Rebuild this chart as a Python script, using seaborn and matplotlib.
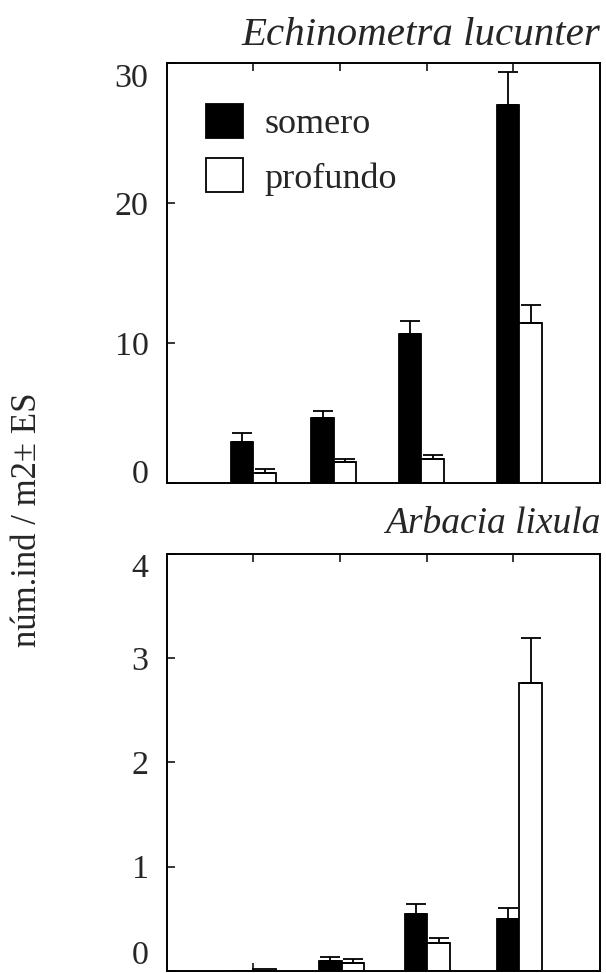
import numpy as np
import pandas as pd
import seaborn as sns
import matplotlib.pyplot as plt
from matplotlib.patches import Patch

# valores
depth = ['somero', 'profundo']
colors = ['black', 'white']

pos_echi = [1.0, 1.93, 2.94, 4.07]
echi_somero = [2.89, 4.6, 10.6, 27.0]
echi_somero_es = [0.64, 0.54, 0.97, 2.4]
echi_profundo = [0.71, 1.46, 1.71, 11.43]
echi_profundo_es = [0.29, 0.25, 0.27, 1.26]

pos_arba = [1.0, 2.02, 3.01, 4.07]
arba_somero = [0.0, 0.10, 0.55, 0.50]
arba_somero_es = [0.0, 0.033, 0.09, 0.10]
arba_profundo = [0.02, 0.08, 0.265, 2.76]
arba_profundo_es = [0.0, 0.037, 0.055, 0.43]

titles = ['Echinometra lucunter', 'Arbacia lixula']
yticks_echi = [0, 10, 20, 30]
yticks_arba = [0, 1, 2, 3, 4]
ylabel = 'núm.ind / m2± ES'


def make_df(pos, som, som_es, pro, pro_es):
    return pd.DataFrame({'pos': pos + pos,
                         'tipo': [depth[0]] * len(pos) + [depth[1]] * len(pos),
                         'val': som + pro,
                         'es': som_es + pro_es})


df_echi = make_df(pos_echi, echi_somero, echi_somero_es, echi_profundo, echi_profundo_es)
df_arba = make_df(pos_arba, arba_somero, arba_somero_es, arba_profundo, arba_profundo_es)

sns.set_style('ticks')
plt.rcParams['font.family'] = ['Liberation Serif', 'DejaVu Serif']

fig = plt.figure(figsize=(6.06, 9.73), dpi=100)
ax1 = fig.add_axes([0.275, 0.504, 0.715, 0.431])
ax2 = fig.add_axes([0.275, 0.002, 0.715, 0.429])

panels = [(ax1, df_echi, yticks_echi, titles[0], 29.5, 13, 'baseline'),
          (ax2, df_arba, yticks_arba, titles[1], 27, 15, 'bottom')]

for ax, df, yt, title, tsize, tpad, va0 in panels:
    native = np.diff(sorted(set(df['pos']))).min()
    sns.barplot(data=df, x='pos', y='val', hue='tipo', hue_order=depth,
                palette=colors, native_scale=True, width=0.52 / native,
                errorbar=None, saturation=1, edgecolor='black',
                linewidth=1.3, legend=False, ax=ax)
    # error estandar solo hacia arriba
    for bar, (_, row) in zip(ax.patches, df.iterrows()):
        if row['es'] > 0:
            ax.errorbar(bar.get_x() + bar.get_width() / 2, bar.get_height(),
                        yerr=[[0], [row['es']]], fmt='none', ecolor='black',
                        elinewidth=1.3, capsize=7, capthick=1.3)
    ax.set_xlim(0, 5)
    ax.set_xticks([1, 2, 3, 4])
    ax.set_xticklabels([])
    ax.set_ylim(yt[0], yt[-1])
    ax.set_yticks(yt)
    ax.tick_params(axis='x', direction='in', top=True, bottom=True,
                   length=6, width=1.3)
    ax.tick_params(axis='y', direction='in', left=True, right=False,
                   length=6, width=1.3, labelsize=24.5, pad=13)
    # etiquetas de los extremos metidas hacia dentro
    ticks = ax.yaxis.get_major_ticks()
    ticks[0].label1.set_verticalalignment(va0)
    ticks[-1].label1.set_verticalalignment('top')
    ax.set_xlabel('')
    ax.set_ylabel('')
    for s in ax.spines.values():
        s.set_linewidth(1.4)
        s.set_color('black')
    ax.set_title(title, loc='right', fontstyle='italic', fontsize=tsize, pad=tpad)

handles = [Patch(facecolor=c, edgecolor='black', linewidth=1.3, label=l)
           for c, l in zip(colors, depth)]
ax1.legend(handles=handles, loc='upper left', bbox_to_anchor=(0.015, 0.98),
           frameon=False, fontsize=26, handlelength=1.04, handleheight=1.07,
           handletextpad=0.6, labelspacing=0.47)

fig.text(0.045, 0.466, ylabel, rotation=90, va='center', ha='center', fontsize=25)

fig.savefig('out.png', dpi=100)
